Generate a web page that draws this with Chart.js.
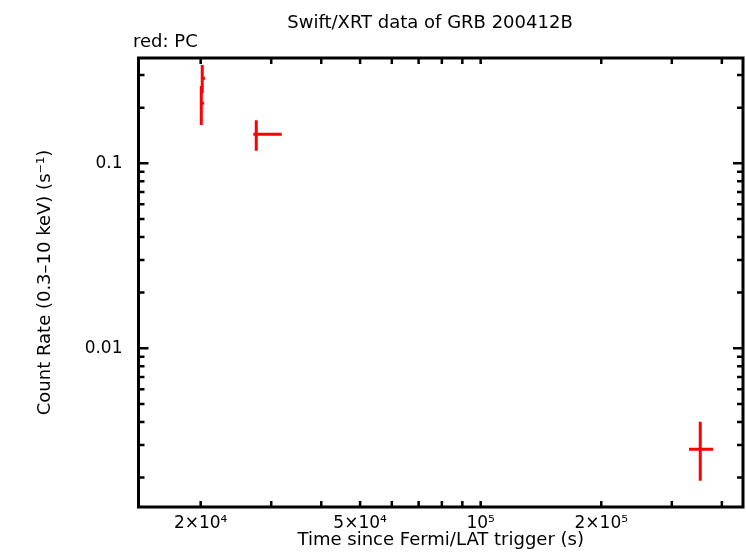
<!DOCTYPE html>
<html>
<head>
<meta charset="utf-8">
<script src="https://cdn.jsdelivr.net/npm/chart.js@4"></script>
<style>
  body { margin: 0; background: #fff; }
  canvas { display: block; }
</style>
</head>
<body>
<canvas id="lc" width="746" height="558"></canvas>
<script>
// light curve bins (PC mode)
const tMid = [20180, 20070, 27530, 353300];
const tLo = [20100, 19950, 27060, 331100];
const tHi = [20500, 20400, 31870, 380200];
const rate = [0.288, 0.211, 0.1435, 0.002845];
const rateLo = [0.240, 0.161, 0.117, 0.001924];
const rateHi = [0.340, 0.262, 0.171, 0.004009];

const xTicks = [2e4, 3e4, 4e4, 5e4, 6e4, 7e4, 8e4, 9e4, 1e5, 2e5, 3e5, 4e5];
const xTickVals = [2e4, 5e4, 1e5, 2e5];
const xTickText = ['2×10⁴', '5×10⁴', '10⁵', '2×10⁵'];
const yTicks = [0.002, 0.003, 0.004, 0.005, 0.006, 0.007, 0.008, 0.009, 0.01,
	0.02, 0.03, 0.04, 0.05, 0.06, 0.07, 0.08, 0.09, 0.1, 0.2, 0.3];
const yTickVals = [0.01, 0.1];
const yTickText = ['0.01', '0.1'];

const FONT = '"DejaVu Sans", sans-serif';

// every bin -> one horizontal and one vertical segment
const datasets = [];
tMid.forEach((t, i) => {
	datasets.push({
		data: [{ x: tLo[i], y: rate[i] }, { x: tHi[i], y: rate[i] }],
		borderColor: '#ff0000', borderWidth: 3, pointRadius: 0, borderCapStyle: 'butt'
	});
	datasets.push({
		data: [{ x: t, y: rateLo[i] }, { x: t, y: rateHi[i] }],
		borderColor: '#ff0000', borderWidth: 3, pointRadius: 0, borderCapStyle: 'butt'
	});
});

const frame = {
	id: 'frame',
	afterDatasetsDraw(chart) {
		const { ctx, chartArea: a, scales } = chart;
		ctx.save();
		ctx.strokeStyle = '#000';
		ctx.lineWidth = 2.5;
		scales.x.ticks.forEach(tk => {
			const px = scales.x.getPixelForValue(tk.value);
			ctx.beginPath();
			ctx.moveTo(px, a.bottom); ctx.lineTo(px, a.bottom - 6);
			ctx.moveTo(px, a.top); ctx.lineTo(px, a.top + 6);
			ctx.stroke();
		});
		scales.y.ticks.forEach(tk => {
			const py = scales.y.getPixelForValue(tk.value);
			const len = yTickVals.includes(tk.value) ? 10 : 6;
			ctx.beginPath();
			ctx.moveTo(a.left, py); ctx.lineTo(a.left + len, py);
			ctx.moveTo(a.right, py); ctx.lineTo(a.right - len, py);
			ctx.stroke();
		});
		ctx.lineWidth = 3;
		ctx.strokeRect(a.left, a.top, a.right - a.left, a.bottom - a.top);

		ctx.fillStyle = '#000';
		ctx.font = '18px ' + FONT;
		ctx.textAlign = 'center';
		ctx.textBaseline = 'alphabetic';
		ctx.fillText('Swift/XRT data of GRB 200412B', 430, 28);
		ctx.textAlign = 'left';
		ctx.fillText('red: PC', 133, 47);
		ctx.restore();
	}
};

new Chart(document.getElementById('lc').getContext('2d'), {
	type: 'line',
	data: { datasets: datasets },
	options: {
		responsive: false,
		devicePixelRatio: 1,
		animation: false,
		layout: { padding: { top: 58, right: 3, left: 0, bottom: 0 } },
		plugins: { legend: { display: false }, tooltip: { enabled: false }, title: { display: false } },
		scales: {
			x: {
				type: 'logarithmic',
				min: 13990,
				max: 451700,
				grid: { display: false, drawTicks: false },
				border: { display: false },
				afterBuildTicks: s => { s.ticks = xTicks.map(v => ({ value: v })); },
				afterFit: s => { s.height = 51; },
				ticks: {
					autoSkip: false, maxRotation: 0, minRotation: 0, padding: 6,
					color: '#000', font: { family: FONT, size: 17 },
					callback: v => {
						const k = xTickVals.indexOf(v);
						return k >= 0 ? xTickText[k] : '';
					}
				},
				title: {
					display: true, text: 'Time since Fermi/LAT trigger (s)',
					color: '#000', font: { family: FONT, size: 18 }, padding: { top: 0, bottom: 7 }
				}
			},
			y: {
				type: 'logarithmic',
				min: 0.001387,
				max: 0.371,
				grid: { display: false, drawTicks: false },
				border: { display: false },
				afterBuildTicks: s => { s.ticks = yTicks.map(v => ({ value: v })); },
				afterFit: s => { s.width = 138.5; },
				ticks: {
					autoSkip: false, padding: 16,
					color: '#000', font: { family: FONT, size: 17 },
					callback: v => {
						const k = yTickVals.indexOf(v);
						return k >= 0 ? yTickText[k] : '';
					}
				},
				title: {
					display: true, text: 'Count Rate (0.3\u201310 keV) (s\u207B\u00B9)',
					color: '#000', font: { family: FONT, size: 18 }, padding: { top: 35, bottom: 0 }
				}
			}
		}
	},
	plugins: [frame]
});
</script>
</body>
</html>
